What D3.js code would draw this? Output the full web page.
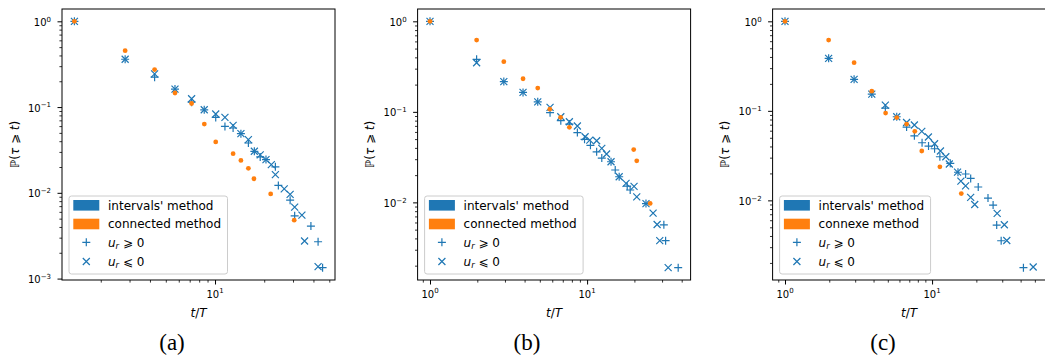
<!DOCTYPE html>
<html><head><meta charset="utf-8">
<script src="https://cdn.jsdelivr.net/npm/d3@7"></script>
<style>body{margin:0;background:#fff}svg{display:block}</style>
</head><body>
<svg id="c" width="1045" height="356"></svg>
<script>
// ---------- data ----------
const captions = ["(a)", "(b)", "(c)"];
const legendLabels1 = ["intervals' method", "intervals' method", "intervals' method"];
const legendLabels2 = ["connected method", "connected method", "connexe method"];

// panel (a)
const aOrangeT = [1.38, 2.82, 4.27, 5.69, 7.19, 8.60, 10.1, 12.9, 14.4, 16.0, 17.3, 21.9, 30.5];
const aOrangeP = [1.0, 0.455, 0.274, 0.146, 0.110, 0.0634, 0.0392, 0.0286, 0.0239, 0.0193, 0.0146, 0.0097, 0.0048];
const aPlusT = [1.38, 2.82, 4.27, 5.69, 7.19, 8.59, 10.1, 11.5, 12.9, 14.4, 16.0, 17.4, 18.9, 20.5, 23.4, 24.4, 28.8, 30.7, 38.6, 42.7, 45.5];
const aPlusP = [1.0, 0.361, 0.223, 0.162, 0.114, 0.093, 0.0757, 0.0595, 0.057, 0.049, 0.0381, 0.0305, 0.0262, 0.0244, 0.0201, 0.0122, 0.0082, 0.0054, 0.0041, 0.00269, 0.00134];
const aCrossT = [1.38, 2.82, 4.27, 5.69, 7.19, 8.59, 10.1, 11.5, 12.9, 14.4, 16.0, 17.4, 18.9, 20.5, 22.1, 23.4, 26.5, 28.8, 30.7, 34.0, 35.3, 42.7];
const aCrossP = [1.0, 0.361, 0.244, 0.162, 0.125, 0.093, 0.083, 0.0757, 0.0611, 0.049, 0.0417, 0.0305, 0.0277, 0.0244, 0.0213, 0.0163, 0.0111, 0.0096, 0.0068, 0.0055, 0.00274, 0.00138];

// panel (b)
const bOrangeT = [1, 1.98, 2.95, 3.91, 4.85, 5.79, 6.78, 7.71, 19.8, 20.7, 25.2];
const bOrangeP = [1, 0.621, 0.358, 0.232, 0.183, 0.107, 0.087, 0.0674, 0.0383, 0.0288, 0.00975];
const bPlusT = [1, 1.98, 2.95, 3.91, 4.85, 5.81, 6.80, 7.71, 8.67, 9.63, 10.5, 11.5, 12.4, 14.2, 15.1, 16.0, 18.0, 18.8, 23.7, 30.8, 31.6, 38.0];
const bPlusP = [1, 0.380, 0.216, 0.164, 0.129, 0.098, 0.080, 0.0733, 0.0591, 0.0497, 0.0427, 0.0362, 0.0309, 0.0281, 0.0228, 0.0192, 0.0151, 0.0137, 0.0097, 0.00565, 0.00378, 0.0019];
const bCrossT = [1, 1.98, 2.95, 3.91, 4.85, 5.81, 6.80, 7.71, 8.67, 9.71, 10.4, 11.5, 12.4, 13.3, 14.2, 16.0, 17.7, 19.9, 20.7, 23.7, 26.3, 27.9, 29.0, 32.8];
const bCrossP = [1, 0.349, 0.216, 0.164, 0.129, 0.112, 0.0883, 0.0778, 0.0697, 0.0531, 0.0488, 0.048, 0.0395, 0.0342, 0.0281, 0.0192, 0.0162, 0.0150, 0.0115, 0.0097, 0.0076, 0.0057, 0.00378, 0.0019];

// panel (c)
const cOrangeT = [1, 1.98, 2.95, 3.89, 4.83, 5.75, 6.71, 7.63, 8.51, 11.3, 15.8];
const cOrangeP = [1, 0.618, 0.345, 0.166, 0.0945, 0.0842, 0.0712, 0.059, 0.0356, 0.0237, 0.0119];
const cPlusT = [1, 1.98, 2.95, 3.89, 4.81, 5.75, 6.71, 7.58, 8.55, 9.46, 10.4, 11.3, 13.3, 15.0, 16.9, 18.3, 20.6, 24.0, 26.0, 27.5, 29.5, 41.8];
const cPlusP = [1, 0.386, 0.225, 0.154, 0.107, 0.0859, 0.0659, 0.0526, 0.044, 0.0404, 0.0377, 0.0307, 0.0259, 0.0206, 0.0197, 0.0176, 0.0141, 0.0106, 0.00886, 0.0053, 0.00354, 0.00177];
const cCrossT = [1, 1.98, 2.95, 3.89, 4.81, 5.75, 6.71, 7.58, 8.51, 9.44, 10.4, 11.4, 12.4, 13.1, 14.9, 15.7, 16.9, 18.3, 19.5, 27.7, 31.0, 32.2, 48.7];
const cCrossP = [1, 0.386, 0.225, 0.154, 0.116, 0.0859, 0.074, 0.0694, 0.059, 0.051, 0.0429, 0.0356, 0.0307, 0.0255, 0.0207, 0.0164, 0.0145, 0.0108, 0.0090, 0.00716, 0.00534, 0.00356, 0.0018];

// ---------- drawing ----------
const BLUE = "#1f77b4", ORANGE = "#ff7f0e";
const FONT = "DejaVu Sans, sans-serif";
const panels = [
  {oT: aOrangeT, oP: aOrangeP, pT: aPlusT, pP: aPlusP, xT: aCrossT, xP: aCrossP},
  {oT: bOrangeT, oP: bOrangeP, pT: bPlusT, pP: bPlusP, xT: bCrossT, xP: bCrossP},
  {oT: cOrangeT, oP: cOrangeP, pT: cPlusT, pP: cPlusP, xT: cCrossT, xP: cCrossP}
];
const axLefts = [62, 417.6, 772.6], axW = 273, axTop = 9, axBot = 280;
const capX = [172, 527, 883];

const svg = d3.select("#c");
svg.append("rect").attr("width", 1045).attr("height", 356).attr("fill", "#fff");

function logExtent(vals) {
  const l = vals.map(Math.log10);
  const mn = d3.min(l), mx = d3.max(l), m = (mx - mn) * 0.05;
  return [Math.pow(10, mn - m), Math.pow(10, mx + m)];
}
function ticksFor(domain) {
  const lo = Math.log10(domain[0]), hi = Math.log10(domain[1]);
  const major = [], minor = [];
  for (let e = Math.floor(lo); e <= Math.ceil(hi); e++) {
    const b = Math.pow(10, e);
    if (b >= domain[0] * 0.9999 && b <= domain[1] * 1.0001) major.push(b);
    for (let k = 2; k <= 9; k++) {
      const v = k * b;
      if (v >= domain[0] && v <= domain[1]) minor.push(v);
    }
  }
  return {major, minor};
}
function expLabel(sel, v, fs) {
  const e = Math.round(Math.log10(v));
  sel.append("tspan").text("10");
  sel.append("tspan").attr("font-size", fs * 0.7).attr("dy", -fs * 0.42)
     .text(e < 0 ? "\u2212" + (-e) : String(e));
}
const plusPath = "M-4,0H4M0,-4V4";
const crossPath = "M-3.5,-3.5L3.5,3.5M-3.5,3.5L3.5,-3.5";

panels.forEach((p, i) => {
  const L = axLefts[i], R = L + axW;
  const g = svg.append("g");
  const x = d3.scaleLog().domain(logExtent([...p.oT, ...p.pT, ...p.xT])).range([L, R]);
  const y = d3.scaleLog().domain(logExtent([...p.oP, ...p.pP, ...p.xP])).range([axBot, axTop]);
  const clipId = "clip" + i;
  svg.append("clipPath").attr("id", clipId).append("rect")
     .attr("x", L).attr("y", axTop).attr("width", axW).attr("height", axBot - axTop);

  const xt = ticksFor(x.domain()), yt = ticksFor(y.domain());
  // axes ticks via d3 axes
  const styleAxis = s => { s.select(".domain").remove(); s.selectAll("line").attr("stroke", "#000"); s.selectAll("text").remove(); };
  g.append("g").attr("transform", `translate(0,${axBot})`)
    .call(d3.axisBottom(x).tickValues(xt.minor).tickSize(2.6).tickFormat(""))
    .call(styleAxis).selectAll("line").attr("stroke-width", 0.8);
  g.append("g").attr("transform", `translate(0,${axBot})`)
    .call(d3.axisBottom(x).tickValues(xt.major).tickSize(4.5).tickFormat(""))
    .call(styleAxis).selectAll("line").attr("stroke-width", 1);
  g.append("g").attr("transform", `translate(${L},0)`)
    .call(d3.axisLeft(y).tickValues(yt.minor).tickSize(2.6).tickFormat(""))
    .call(styleAxis).selectAll("line").attr("stroke-width", 0.8);
  g.append("g").attr("transform", `translate(${L},0)`)
    .call(d3.axisLeft(y).tickValues(yt.major).tickSize(4.5).tickFormat(""))
    .call(styleAxis).selectAll("line").attr("stroke-width", 1);

  const tfs = 10;
  xt.major.forEach(v => {
    const t = g.append("text").attr("x", x(v)).attr("y", axBot + 17.5)
      .attr("text-anchor", "middle").attr("font-family", FONT).attr("font-size", tfs).attr("fill", "#000");
    expLabel(t, v, tfs);
  });
  yt.major.forEach(v => {
    const t = g.append("text").attr("x", L - 11).attr("y", y(v) + 4.5)
      .attr("text-anchor", "end").attr("font-family", FONT).attr("font-size", tfs).attr("fill", "#000");
    expLabel(t, v, tfs);
  });

  // axis labels
  const xl = g.append("text").attr("x", (L + R) / 2).attr("y", 316.5).attr("text-anchor", "middle")
    .attr("font-family", FONT).attr("font-size", 12).attr("fill", "#000");
  xl.append("tspan").attr("font-style", "italic").text("t");
  xl.append("tspan").text("/");
  xl.append("tspan").attr("font-style", "italic").text("T");

  const yl = g.append("text").attr("transform", `translate(${L - 43.5},${(axTop + axBot) / 2}) rotate(-90)`)
    .attr("text-anchor", "middle").attr("font-family", FONT).attr("font-size", 12).attr("fill", "#000");
  yl.append("tspan").text("\u2119(");
  yl.append("tspan").attr("font-style", "italic").text("\u03c4");
  yl.append("tspan").text(" \u2a7e ");
  yl.append("tspan").attr("font-style", "italic").text("t");
  yl.append("tspan").text(")");

  // data
  const dg = g.append("g").attr("clip-path", `url(#${clipId})`);
  dg.selectAll(".pl").data(d3.zip(p.pT, p.pP)).join("path")
    .attr("d", plusPath).attr("transform", d => `translate(${x(d[0])},${y(d[1])})`)
    .attr("stroke", BLUE).attr("stroke-width", 1.2).attr("fill", "none");
  dg.selectAll(".cr").data(d3.zip(p.xT, p.xP)).join("path")
    .attr("d", crossPath).attr("transform", d => `translate(${x(d[0])},${y(d[1])})`)
    .attr("stroke", BLUE).attr("stroke-width", 1.2).attr("fill", "none");
  dg.selectAll("circle").data(d3.zip(p.oT, p.oP)).join("circle")
    .attr("cx", d => x(d[0])).attr("cy", d => y(d[1])).attr("r", 2.4).attr("fill", ORANGE);

  // frame
  g.append("rect").attr("x", L).attr("y", axTop).attr("width", axW).attr("height", axBot - axTop)
    .attr("fill", "none").attr("stroke", "#000").attr("stroke-width", 1);

  // legend
  const lg = g.append("g");
  const box = lg.append("rect").attr("rx", 2.5).attr("ry", 2.5)
    .attr("fill", "#fff").attr("fill-opacity", 0.8).attr("stroke", "#ccc").attr("stroke-width", 1);
  const rows = [9.3, 28, 46.3, 65.5];
  const boxH = 78, boxL = L + 7, boxTop = axBot - 6 - boxH;
  const texts = [];
  const mk = (ry) => lg.append("text").attr("x", boxL + 39).attr("y", boxTop + ry + 4.3)
      .attr("font-family", FONT).attr("font-size", 12).attr("fill", "#000");
  lg.append("rect").attr("x", boxL + 4.3).attr("y", boxTop + rows[0] - 5.3).attr("width", 26).attr("height", 10.6).attr("fill", BLUE);
  texts.push(mk(rows[0]).text(legendLabels1[i]));
  lg.append("rect").attr("x", boxL + 4.3).attr("y", boxTop + rows[1] - 5.3).attr("width", 26).attr("height", 10.6).attr("fill", ORANGE);
  texts.push(mk(rows[1]).text(legendLabels2[i]));
  lg.append("path").attr("d", plusPath).attr("transform", `translate(${boxL + 17.3},${boxTop + rows[2]})`)
    .attr("stroke", BLUE).attr("stroke-width", 1.2).attr("fill", "none");
  const t3 = mk(rows[2]);
  t3.append("tspan").attr("font-style", "italic").text("u");
  t3.append("tspan").attr("font-style", "italic").attr("font-size", 8.4).attr("dy", 2.6).text("r");
  t3.append("tspan").attr("dy", -2.6).text(" \u2a7e 0");
  texts.push(t3);
  lg.append("path").attr("d", crossPath).attr("transform", `translate(${boxL + 17.3},${boxTop + rows[3]})`)
    .attr("stroke", BLUE).attr("stroke-width", 1.2).attr("fill", "none");
  const t4 = mk(rows[3]);
  t4.append("tspan").attr("font-style", "italic").text("u");
  t4.append("tspan").attr("font-style", "italic").attr("font-size", 8.4).attr("dy", 2.6).text("r");
  t4.append("tspan").attr("dy", -2.6).text(" \u2a7d 0");
  texts.push(t4);
  const maxW = d3.max(texts, t => t.node().getComputedTextLength());
  box.attr("x", boxL).attr("y", boxTop).attr("width", 39 + maxW + 6.5).attr("height", boxH);

  // caption
  svg.append("text").attr("x", capX[i]).attr("y", 350).attr("text-anchor", "middle")
    .attr("font-family", "Liberation Serif, Times New Roman, serif").attr("font-size", 23).attr("fill", "#000")
    .text(captions[i]);
});
</script>
</body></html>
